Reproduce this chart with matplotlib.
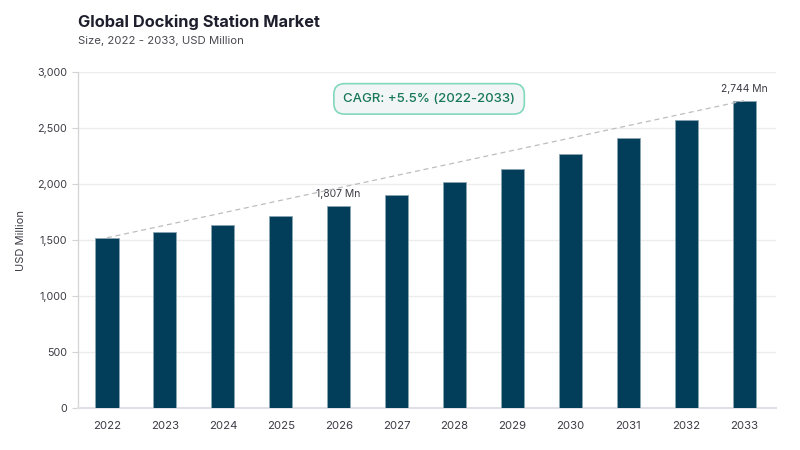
import matplotlib
matplotlib.use("Agg")
import matplotlib.pyplot as plt
from matplotlib.ticker import FuncFormatter

# values (USD Million)
years = ["2022", "2023", "2024", "2025", "2026", "2027",
         "2028", "2029", "2030", "2031", "2032", "2033"]
market_size = [1520, 1568, 1638, 1716, 1807, 1904,
               2014, 2130, 2265, 2410, 2569, 2744]
labeled_years = ["2026", "2033"]
cagr_text = "CAGR: +5.5% (2022-2033)"

plt.rcParams['font.family'] = ['Inter', 'DejaVu Sans']

bar_color = '#023E5A'
grid_color = '#ececec'
text_color = '#3c3c46'

fig = plt.figure(figsize=(8, 4.5), dpi=100)
ax = fig.add_axes([0.0975, 0.0933, 0.8725, 0.7467])

x = list(range(len(years)))
ax.bar(x, market_size, width=0.4, color=bar_color,
       edgecolor='#8aa6b5', linewidth=0.6, zorder=3)

# dashed trend line from first to last bar top
ax.plot([x[0], x[-1]], [market_size[0], market_size[-1]],
        linestyle=(0, (4, 3)), color='#bdbdbd', linewidth=0.9, zorder=4)

# value labels
for i, yr in enumerate(years):
    if yr in labeled_years:
        ax.annotate(f"{market_size[i]:,} Mn", (x[i], market_size[i]),
                    xytext=(0, 5), textcoords='offset points',
                    ha='center', va='bottom', fontsize=7.5, color=text_color)

# CAGR box
ax.text(0.503, 0.92, cagr_text, transform=ax.transAxes,
        ha='center', va='center', fontsize=9.5, fontweight='medium',
        color='#17775a', zorder=5,
        bbox=dict(boxstyle='round,pad=0.7,rounding_size=0.8',
                  facecolor='#f1f5f5', edgecolor='#82d8bd', linewidth=1.2))

ax.set_xlim(-0.5, 11.55)
ax.set_ylim(0, 3000)
ax.set_yticks(range(0, 3001, 500))
ax.yaxis.set_major_formatter(FuncFormatter(lambda v, p: f"{int(v):,}"))
ax.set_xticks(x)
ax.set_xticklabels(years)

ax.grid(axis='y', color=grid_color, linewidth=1, zorder=0)
ax.set_axisbelow(True)
for s in ['top', 'right']:
    ax.spines[s].set_visible(False)
ax.spines['left'].set_color('#d4d4d4')
ax.spines['left'].set_linewidth(0.9)
ax.spines['bottom'].set_color('#e0e0e6')
ax.spines['bottom'].set_linewidth(1.5)

ax.tick_params(axis='y', length=4, color='#d4d4d4', labelsize=7.8,
               labelcolor=text_color, pad=4)
ax.tick_params(axis='x', length=0, labelsize=8.2, labelcolor=text_color, pad=9)

ax.set_ylabel("USD Million", fontsize=8, color=text_color, labelpad=8)

fig.text(0.0975, 0.951, "Global Docking Station Market", fontsize=11.8,
         fontweight='bold', color='#1e1e2d', va='center')
fig.text(0.0975, 0.909, "Size, 2022 - 2033, USD Million", fontsize=8.2,
         color='#4a4a52', va='center')

fig.savefig("out.png", dpi=100)
